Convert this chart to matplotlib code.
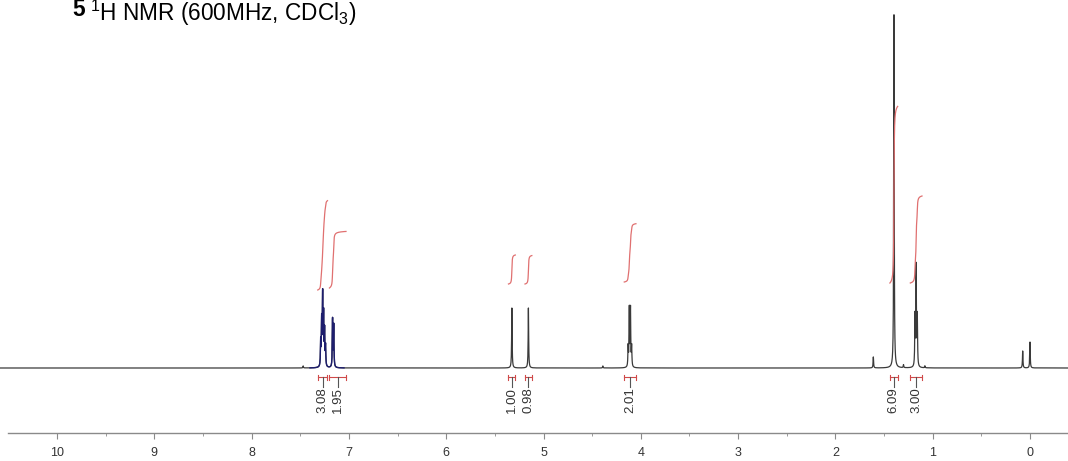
import numpy as np
import matplotlib
matplotlib.use('Agg')
import matplotlib.pyplot as plt

plt.rcParams['font.family'] = ['Liberation Sans', 'DejaVu Sans']
plt.rcParams['mathtext.fontset'] = 'custom'
plt.rcParams['mathtext.rm'] = 'Liberation Sans'
plt.rcParams['mathtext.it'] = 'Liberation Sans:italic'
plt.rcParams['mathtext.bf'] = 'Liberation Sans:bold'

# ---------------- data ----------------
# spectrum lines: chemical shift (ppm) and intensity (arbitrary units)
peak_ppm = [7.290, 7.280, 7.270, 7.260, 7.250, 7.240,
            7.168, 7.156,
            5.325, 5.155,
            4.130, 4.118, 4.106, 4.094,
            1.398,
            1.182, 1.170, 1.158,
            1.610, 0.075, 0.000, 7.470, 4.390, 1.300, 1.080]
peak_height = [25, 45, 70, 50, 35, 20,
               48, 42,
               60, 60,
               20, 58, 58, 20,
               354,
               50, 100, 50,
               11, 17, 26, 2, 2, 3, 2]
aromatic_range = (7.40, 7.05)   # drawn in navy

# integrals
integral_labels = ['3.08', '1.95', '1.00', '0.98', '2.01', '6.09', '3.00']
integral_values = [3.08, 1.95, 1.00, 0.98, 2.01, 6.09, 3.00]
integral_from = [7.32, 7.20, 5.36, 5.19, 4.17, 1.44, 1.23]
integral_to = [7.22, 7.03, 5.29, 5.12, 4.05, 1.36, 1.11]
integral_start = [78, 80, 84, 84, 86, 85, 85]

major_ticks = [10, 9, 8, 7, 6, 5, 4, 3, 2, 1, 0]

# ---------------- figure ----------------
W, H = 1068, 461
fig = plt.figure(figsize=(W / 100, H / 100), dpi=100)
ax = fig.add_axes([0, 0, 1, 1])
ax.set_axis_off()
ppm_left = 1030 / 97.3
ppm_right = (1030 - W) / 97.3
ax.set_xlim(ppm_left, ppm_right)
ax.set_ylim(-(H - 368), 368)

grid = np.arange(ppm_right, ppm_left, 0.0004)
hw = 0.003

def lorentz(x, centers, heights, w):
    y = np.zeros_like(x)
    for c, h in zip(centers, heights):
        y += h / (1 + ((x - c) / w) ** 2)
    return y

spec = lorentz(grid, peak_ppm, peak_height, hw)
ax.plot(grid, spec, color='#3a3a3a', lw=0.9)
m = (grid <= aromatic_range[0]) & (grid >= aromatic_range[1])
ax.plot(grid[m], spec[m], color='#1e1e6e', lw=1.0)

# integral curves and brackets
red = '#e07070'
bred = '#d04a4a'
scale = 29.0
for lab, val, a, b, s in zip(integral_labels, integral_values,
                             integral_from, integral_to, integral_start):
    xs = np.linspace(a, b, 400)
    broad = lorentz(xs, peak_ppm, peak_height, 0.003)
    cum = np.cumsum(broad)
    cum = (cum - cum[0]) / (cum[-1] - cum[0])
    ax.plot(xs, s + cum * val * scale, color=red, lw=0.9)
    # bracket under baseline
    ax.plot([a, b], [-9, -9], color=bred, lw=0.8)
    ax.plot([a, a], [-7, -12], color=bred, lw=0.8)
    ax.plot([b, b], [-7, -12], color=bred, lw=0.8)
    c = (a + b) / 2
    ax.plot([c, c], [-9, -19], color='#555555', lw=0.8)
    ax.text(c, -19, lab, rotation=90, ha='center', va='top',
            fontsize=9.5, color='#333333')

# bottom ppm axis
ax2 = fig.add_axes([8 / W, 28 / H, 1 - 8 / W, 0.0001])
ax2.set_xlim((1030 - 8) / 97.3, ppm_right)
ax2.patch.set_visible(False)
for sp in ['top', 'left', 'right']:
    ax2.spines[sp].set_visible(False)
ax2.spines['bottom'].set_color('#8a8a8a')
ax2.spines['bottom'].set_linewidth(1.0)
ax2.set_yticks([])
ax2.set_xticks(major_ticks)
ax2.set_xticklabels([str(t) for t in major_ticks])
ax2.set_xticks(np.arange(0.5, 10.5, 1.0), minor=True)
ax2.tick_params(axis='x', which='major', direction='out', length=4,
                color='#8a8a8a', labelsize=9, labelcolor='#333333', pad=6)
ax2.tick_params(axis='x', which='minor', direction='out', length=2,
                color='#8a8a8a')

# title
t5 = fig.text(72 / W, 1 - 16 / H, '5', fontsize=16.3, fontweight='bold',
              ha='left', va='baseline')
ax.annotate(r'$^{1}$H NMR (600MHz, CDCl$_{3}$)', xy=(1, 0), xycoords=t5,
            xytext=(4, 0), textcoords='offset points',
            fontsize=16.3, ha='left', va='baseline', annotation_clip=False)

fig.savefig('out.png', dpi=100)
